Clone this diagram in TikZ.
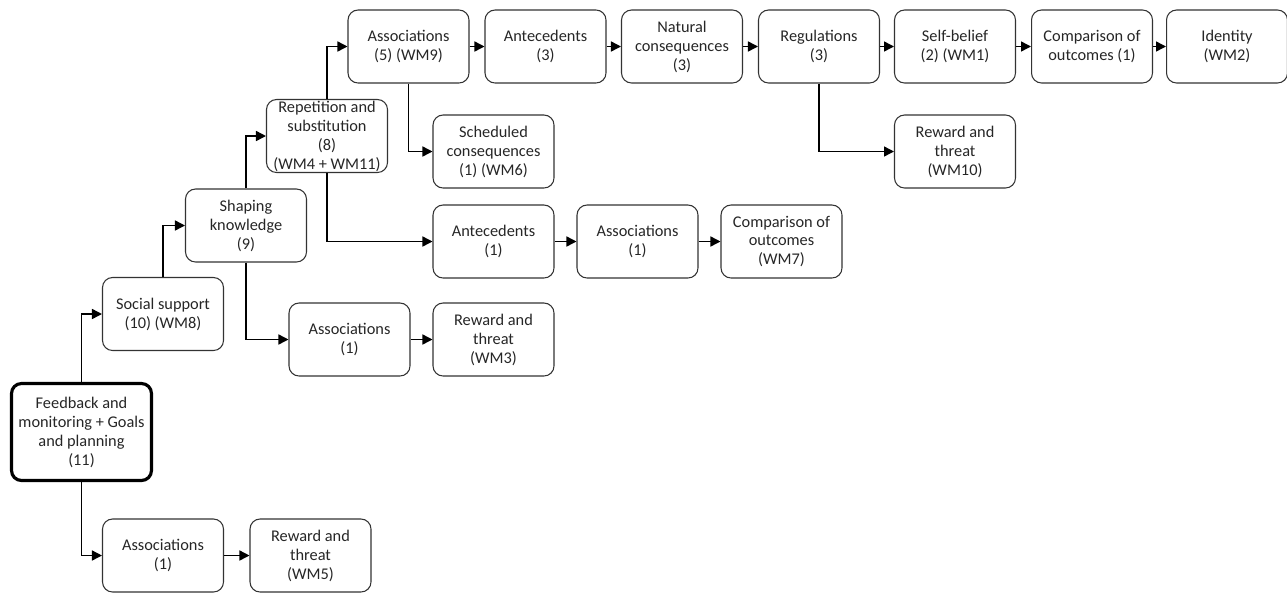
\documentclass[tikz,border=0pt]{standalone}
\usepackage{fontspec}
\setmainfont{Carlito}
\usetikzlibrary{arrows.meta}
\begin{document}
\begin{tikzpicture}[x=0.02cm,y=-0.02cm,
  box/.style={draw=black!80, rounded corners=0.2cm, line width=0.6pt, align=center,
    minimum width=2.42cm, minimum height=1.46cm, inner sep=0pt, text=black!85,
    font=\fontsize{9.3pt}{10.8pt}\selectfont},
  startbox/.style={box, line width=1.8pt, draw=black, minimum width=2.8cm, minimum height=1.94cm},
  link/.style={line width=0.85pt, -{Triangle[length=0.2cm,width=0.2cm]}}]
% Fixed page size
\useasboundingbox (0,0) rectangle (1287,592);

% Boxes
\node[startbox] (fb) at (81.5,432) {Feedback and\\monitoring + Goals\\and planning\\(11)};
\node[box] (social) at (163,314) {Social support\\(10) (WM8)};
\node[box] (shape) at (246,225.5) {Shaping\\knowledge\\(9)};
\node[box] (rep) at (327,136) {Repetition and\\substitution\\(8)\\(WM4 + WM11)};
\node[box] (assocA) at (408.5,46.5) {Associations\\(5) (WM9)};
\node[box] (antecA) at (545.5,46.5) {Antecedents\\(3)};
\node[box] (natural) at (682,46.5) {Natural\\consequences\\(3)};
\node[box] (regul) at (819,46.5) {Regulations\\(3)};
\node[box] (belief) at (955,46.5) {Self-belief\\(2) (WM1)};
\node[box] (compA) at (1092,46.5) {Comparison of\\outcomes (1)};
\node[box] (ident) at (1227,46.5) {Identity\\(WM2)};
\node[box] (sched) at (493.5,151.5) {Scheduled\\consequences\\(1) (WM6)};
\node[box] (rewardA) at (955,151.5) {Reward and\\threat\\(WM10)};
\node[box] (antecB) at (493.5,241.5) {Antecedents\\(1)};
\node[box] (assocB) at (637.5,241.5) {Associations\\(1)};
\node[box] (compB) at (781.5,241.5) {Comparison of\\outcomes\\(WM7)};
\node[box] (assocC) at (349.5,339.5) {Associations\\(1)};
\node[box] (rewardB) at (493.5,339.5) {Reward and\\threat\\(WM3)};
\node[box] (assocD) at (163,555.5) {Associations\\(1)};
\node[box] (rewardC) at (310.5,555.5) {Reward and\\threat\\(WM5)};

% Links
\draw[link] (fb.north) |- (social.west);
\draw[link] (fb.south) |- (assocD.west);
\draw[link] (assocD) -- (rewardC);
\draw[link] (social.north) |- (shape.west);
\draw[link] (shape.north) |- (rep.west);
\draw[link] (shape.south) |- (assocC.west);
\draw[link] (assocC) -- (rewardB);
\draw[link] (rep.north) |- (assocA.west);
\draw[link] (rep.south) |- (antecB.west);
\draw[link] (antecB) -- (assocB);
\draw[link] (assocB) -- (compB);
\draw[link] (assocA.south) |- (sched.west);
\draw[link] (assocA) -- (antecA);
\draw[link] (antecA) -- (natural);
\draw[link] (natural) -- (regul);
\draw[link] (regul) -- (belief);
\draw[link] (belief) -- (compA);
\draw[link] (compA) -- (ident);
\draw[link] (regul.south) |- (rewardA.west);
\end{tikzpicture}
\end{document}
